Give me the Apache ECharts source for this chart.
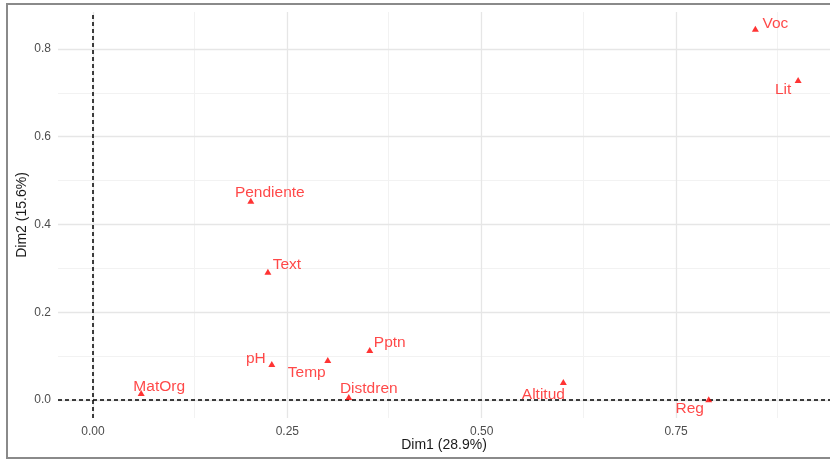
<!DOCTYPE html>
<html><head><meta charset="utf-8">
<script src="https://cdn.jsdelivr.net/npm/echarts@6/dist/echarts.min.js"></script>
<style>html,body{margin:0;padding:0;background:#fff}#c{width:830px;height:460px}</style>
</head><body><div id="c"></div>
<script>
// ---- data ----
var variables = ['Voc','Lit','Pendiente','Text','pH','Temp','Pptn','Distdren','MatOrg','Altitud','Reg'];
var dim1 = [0.852, 0.907, 0.203, 0.225, 0.230, 0.302, 0.356, 0.329, 0.062, 0.605, 0.792];
var dim2 = [0.846, 0.729, 0.454, 0.292, 0.082, 0.091, 0.114, 0.007, 0.016, 0.041, 0.002];
var xTicks = [0, 0.25, 0.5, 0.75];
var xTickLabels = ['0.00','0.25','0.50','0.75'];
var xMinor = [0.125, 0.375, 0.625, 0.875];
var yTicks = [0, 0.2, 0.4, 0.6, 0.8];
var yTickLabels = ['0.0','0.2','0.4','0.6','0.8'];
var yMinor = [0.1, 0.3, 0.5, 0.7];
var xTitle = 'Dim1 (28.9%)';
var yTitle = 'Dim2 (15.6%)';
// label placement (repelled offsets, px)
var labelOffsets = [[20,-5],[-15,10],[19,-8],[19,-7],[-16,-5],[-21,13],[20,-7],[20,-8],[18,-6],[-20,13],[-19,10]];

var FONT = '"Liberation Sans", Arial, sans-serif';
var chart = echarts.init(document.getElementById('c'), null, {renderer:'canvas'});

function fmt(labels, ticks){ return function(v){ for (var i=0;i<ticks.length;i++){ if (Math.abs(v-ticks[i])<1e-9) return labels[i]; } return ''; }; }

var gridLines = [];
xMinor.forEach(function(v){ gridLines.push({xAxis:v, lineStyle:{color:'#f2f2f2', width:1, type:'solid'}}); });
yMinor.forEach(function(v){ gridLines.push({yAxis:v, lineStyle:{color:'#f2f2f2', width:1, type:'solid'}}); });
xTicks.forEach(function(v){ gridLines.push({xAxis:v, lineStyle:{color:'#e6e6e6', width:1.3, type:'solid'}}); });
yTicks.forEach(function(v){ gridLines.push({yAxis:v, lineStyle:{color:'#e6e6e6', width:1.3, type:'solid'}}); });

var pts = variables.map(function(n,i){ return {name:n, value:[dim1[i], dim2[i]]}; });

chart.setOption({
  animation:false,
  backgroundColor:'#ffffff',
  graphic:[{type:'rect', shape:{x:7, y:4, width:900, height:454}, style:{fill:'none', stroke:'#8a8a8a', lineWidth:2}, z:100}],
  grid:{left:58, right:0, top:12, bottom:42, containLabel:false},
  xAxis:{type:'value', min:-0.045, max:0.948,
    name:xTitle, nameLocation:'middle', nameGap:20, nameMoveOverlap:false,
    nameTextStyle:{color:'#1a1a1a', fontSize:14, fontFamily:FONT},
    axisLine:{show:false},
    axisTick:{show:true, customValues:xTicks, length:4, lineStyle:{color:'#333', width:1}},
    axisLabel:{customValues:xTicks, formatter:fmt(xTickLabels,xTicks), color:'#4d4d4d', fontSize:12, fontFamily:FONT, margin:8},
    splitLine:{show:false}},
  yAxis:{type:'value', min:-0.041, max:0.884,
    name:yTitle, nameLocation:'middle', nameGap:29, nameRotate:90, nameMoveOverlap:false,
    nameTextStyle:{color:'#1a1a1a', fontSize:14, fontFamily:FONT},
    axisLine:{show:false},
    axisTick:{show:true, customValues:yTicks, length:4, lineStyle:{color:'#333', width:1}},
    axisLabel:{customValues:yTicks, formatter:fmt(yTickLabels,yTicks), color:'#4d4d4d', fontSize:12, fontFamily:FONT, margin:7},
    splitLine:{show:false}},
  series:[
    {type:'scatter', data:[], z:1, silent:true,
      markLine:{silent:true, symbol:['none','none'], label:{show:false}, animation:false, data:gridLines}},
    {type:'scatter', data:[], z:2, silent:true,
      markLine:{silent:true, symbol:['none','none'], label:{show:false}, animation:false,
        lineStyle:{color:'#000', width:1.5, type:[4,3]},
        data:[{xAxis:0},{yAxis:0}]}},
    {type:'scatter', z:5, symbol:'triangle', symbolSize:[7,6],
      itemStyle:{color:'#ff0000'},
      label:{show:true, position:'inside', formatter:'{b}', color:'#ff1a1a', fontSize:15.5, fontFamily:FONT, align:'center', verticalAlign:'middle'},
      labelLayout:function(p){ var o = labelOffsets[p.dataIndex]; return {dx:o[0], dy:o[1], hideOverlap:false}; },
      data:pts}
  ]
});
</script></body></html>
